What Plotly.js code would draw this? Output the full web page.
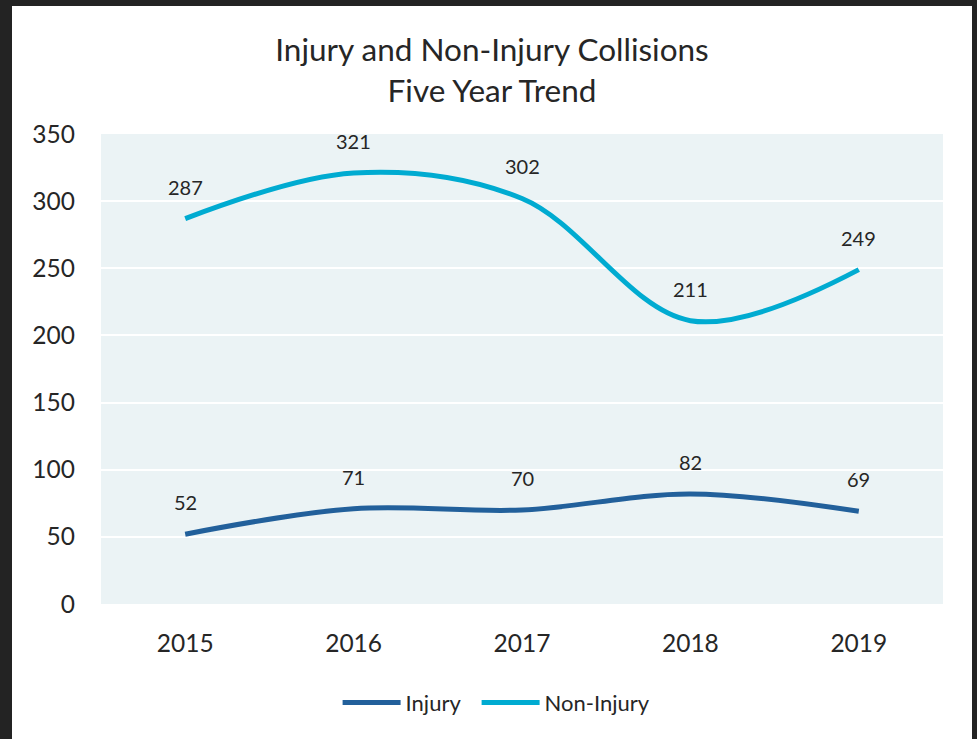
<!DOCTYPE html>
<html>
<head>
<meta charset="utf-8">
<script src="https://cdn.plot.ly/plotly-3.0.1.min.js"></script>
<style>
  html, body { margin: 0; padding: 0; background: #232323; width: 977px; height: 739px; overflow: hidden; }
  #chart { position: absolute; left: 12px; top: 6px; width: 960px; height: 733px; background: #ffffff; }
  #err { position: absolute; left: 20px; top: 700px; color: red; font: 12px sans-serif; }
</style>
</head>
<body>
<div id="chart"></div>
<div id="err"></div>
<script>
const years = ['2015', '2016', '2017', '2018', '2019'];
const injury = [52, 71, 70, 82, 69];
const nonInjury = [287, 321, 302, 211, 249];
const yTicks = [0, 50, 100, 150, 200, 250, 300, 350];

const FONT = 'Lato, "Open Sans", sans-serif';
const TXT = '#262626';

const traces = [
  {
    x: years, y: injury, name: 'Injury', type: 'scatter', mode: 'lines',
    line: {color: '#22609B', width: 5, shape: 'spline', smoothing: 1},
    legendwidth: 66,
    hoverinfo: 'x+y'
  },
  {
    x: years, y: nonInjury, name: 'Non-Injury', type: 'scatter', mode: 'lines',
    line: {color: '#00ABD1', width: 5, shape: 'spline', smoothing: 1},
    hoverinfo: 'x+y'
  }
];

function makeLabels(vals) {
  return vals.map(function (v, i) {
    return {
      x: i, y: v, xref: 'x', yref: 'y',
      text: String(v), showarrow: false,
      xanchor: 'center', yanchor: 'middle', yshift: 32,
      font: {family: FONT, size: 20, color: TXT}
    };
  });
}

const layout = {
  width: 960, height: 733,
  margin: {l: 89, r: 29, t: 128, b: 135},
  paper_bgcolor: '#ffffff',
  plot_bgcolor: '#EBF3F5',
  font: {family: FONT, color: TXT},
  title: {
    text: 'Injury and Non-Injury Collisions<br>Five Year Trend',
    font: {family: FONT, size: 31.5, color: TXT},
    x: 0.5, xanchor: 'center', y: 0.99, yanchor: 'top', pad: {t: 48}
  },
  annotations: makeLabels(injury).concat(makeLabels(nonInjury)),
  xaxis: {
    type: 'category', range: [-0.5, 4.5],
    showgrid: false, zeroline: false, showline: false,
    ticks: '', tickfont: {family: FONT, size: 24.5, color: TXT},
    ticklabelstandoff: 22, fixedrange: true
  },
  yaxis: {
    range: [0, 350], tickvals: yTicks, ticktext: yTicks.map(String),
    showgrid: true, gridcolor: '#ffffff', gridwidth: 1.5,
    zeroline: false, showline: false, ticks: '',
    tickfont: {family: FONT, size: 24.5, color: TXT},
    ticklabelstandoff: 25, fixedrange: true
  },
  showlegend: true,
  legend: {
    orientation: 'h', x: 0.281, xanchor: 'left', y: -0.21, yanchor: 'middle',
    font: {family: FONT, size: 22, color: TXT}, traceorder: 'normal',
    itemwidth: 58
  }
};

try {
  Plotly.newPlot('chart', traces, layout, {displayModeBar: false}).catch(function (e) {
    document.getElementById('err').textContent = String(e);
  });
} catch (e) {
  document.getElementById('err').textContent = String(e);
}
</script>
</body>
</html>
